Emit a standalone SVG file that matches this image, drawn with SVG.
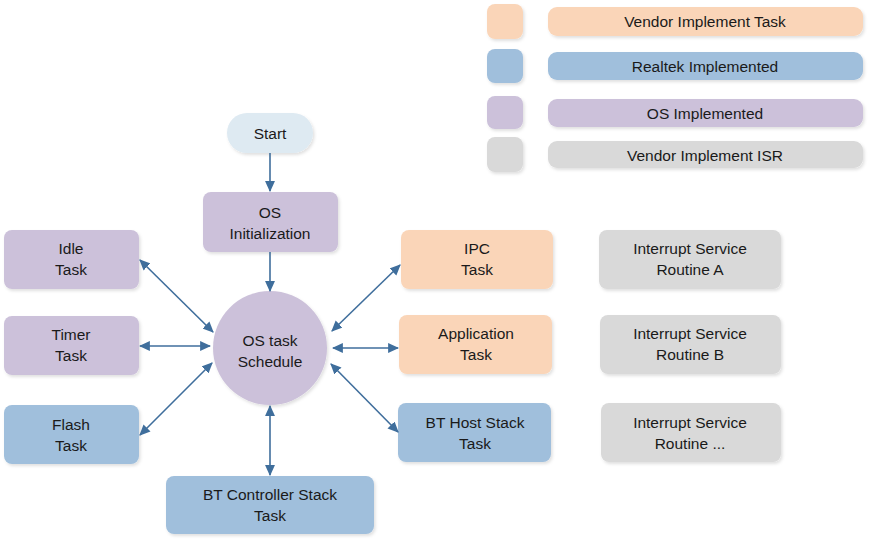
<svg xmlns="http://www.w3.org/2000/svg" width="874" height="546" viewBox="0 0 874 546">
<defs>
<filter id="sh" x="-10%" y="-10%" width="125%" height="130%">
<feDropShadow dx="1.5" dy="2" stdDeviation="1.5" flood-color="#000" flood-opacity="0.12"/>
</filter>
<marker id="ah" viewBox="0 0 10 10" refX="9" refY="5" markerWidth="11" markerHeight="11" markerUnits="userSpaceOnUse" orient="auto-start-reverse">
<path d="M0,0.5 L10,5 L0,9.5 Z" fill="#3F6E9C"/>
</marker>
<style>
.t{font-family:"Liberation Sans","Open Sans",Arial,sans-serif;font-size:15.5px;fill:#1a1a1a;text-anchor:middle}
.or{fill:#FAD5B8}
.bl{fill:#A0BFDC}
.pu{fill:#CCC1DA}
.gr{fill:#D9D9D9}
.st{fill:#DEEAF2}
.n{filter:url(#sh)}
.c{stroke:#3F6E9C;stroke-width:1.6;fill:none;marker-end:url(#ah)}
.d{marker-start:url(#ah)}
</style>
</defs>
<rect width="874" height="546" fill="#fff"/>
<g id="legend">
<rect class="or n" x="487" y="4" width="36" height="35" rx="8"/>
<rect class="bl n" x="487" y="49" width="36" height="34" rx="8"/>
<rect class="pu n" x="487" y="96" width="36" height="33" rx="8"/>
<rect class="gr n" x="487" y="137" width="36" height="35" rx="8"/>
<rect class="or n" x="548" y="7" width="315" height="29" rx="9"/>
<text class="t" x="705" y="27">Vendor Implement Task</text>
<rect class="bl n" x="548" y="52" width="315" height="28" rx="9"/>
<text class="t" x="705" y="72">Realtek Implemented</text>
<rect class="pu n" x="548" y="99" width="315" height="28" rx="9"/>
<text class="t" x="705" y="119">OS Implemented</text>
<rect class="gr n" x="548" y="141" width="315" height="27" rx="9"/>
<text class="t" x="705" y="161">Vendor Implement ISR</text>
</g>
<g id="start">
<rect class="st n" x="227" y="113" width="86" height="40" rx="20"/>
<text class="t" x="270" y="139">Start</text>
</g>
<g id="os-init">
<rect class="pu n" x="203" y="192" width="135" height="60" rx="8"/>
<text class="t" x="270" y="218">OS</text>
<text class="t" x="270" y="239">Initialization</text>
</g>
<g id="os-schedule">
<circle class="pu n" cx="270" cy="348" r="57"/>
<text class="t" x="270" y="346">OS task</text>
<text class="t" x="270" y="367">Schedule</text>
</g>
<g id="idle">
<rect class="pu n" x="4" y="230" width="135" height="59" rx="8"/>
<text class="t" x="71" y="254">Idle</text>
<text class="t" x="71" y="275">Task</text>
</g>
<g id="timer">
<rect class="pu n" x="4" y="316" width="135" height="59" rx="8"/>
<text class="t" x="71" y="340">Timer</text>
<text class="t" x="71" y="361">Task</text>
</g>
<g id="flash">
<rect class="bl n" x="4" y="405" width="135" height="59" rx="8"/>
<text class="t" x="71" y="430">Flash</text>
<text class="t" x="71" y="451">Task</text>
</g>
<g id="bt-controller">
<rect class="bl n" x="166" y="476" width="208" height="58" rx="8"/>
<text class="t" x="270" y="500">BT Controller Stack</text>
<text class="t" x="270" y="521">Task</text>
</g>
<g id="ipc">
<rect class="or n" x="401" y="230" width="152" height="59" rx="8"/>
<text class="t" x="477" y="254">IPC</text>
<text class="t" x="477" y="275">Task</text>
</g>
<g id="application">
<rect class="or n" x="399" y="315" width="153" height="59" rx="8"/>
<text class="t" x="476" y="339">Application</text>
<text class="t" x="476" y="360">Task</text>
</g>
<g id="bt-host">
<rect class="bl n" x="398" y="403" width="153" height="59" rx="8"/>
<text class="t" x="475" y="428">BT Host Stack</text>
<text class="t" x="475" y="449">Task</text>
</g>
<g id="isr-a">
<rect class="gr n" x="599" y="230" width="182" height="59" rx="8"/>
<text class="t" x="690" y="254">Interrupt Service</text>
<text class="t" x="690" y="275">Routine A</text>
</g>
<g id="isr-b">
<rect class="gr n" x="600" y="315" width="181" height="59" rx="8"/>
<text class="t" x="690" y="339">Interrupt Service</text>
<text class="t" x="690" y="360">Routine B</text>
</g>
<g id="isr-c">
<rect class="gr n" x="601" y="403" width="180" height="59" rx="8"/>
<text class="t" x="690" y="428">Interrupt Service</text>
<text class="t" x="690" y="449">Routine ...</text>
</g>
<g id="connectors">
<line class="c" x1="270" y1="153" x2="270" y2="191"/>
<line class="c" x1="270" y1="252" x2="270" y2="291"/>
<line class="c d" x1="140" y1="260" x2="213" y2="332"/>
<line class="c d" x1="140" y1="346" x2="210" y2="346"/>
<line class="c d" x1="140" y1="435" x2="212" y2="363"/>
<line class="c d" x1="270" y1="406" x2="270" y2="475"/>
<line class="c d" x1="332" y1="331" x2="400" y2="265"/>
<line class="c d" x1="333" y1="348" x2="398" y2="348"/>
<line class="c d" x1="331" y1="364" x2="398" y2="432"/>
</g>
</svg>
